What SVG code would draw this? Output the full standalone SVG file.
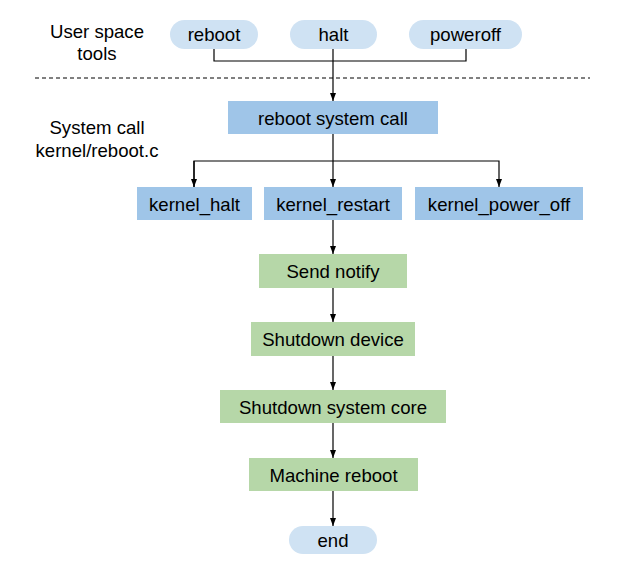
<svg xmlns="http://www.w3.org/2000/svg" width="634" height="571" viewBox="0 0 634 571">
<defs>
<marker id="ah" viewBox="0 0 8 8" refX="8" refY="4" markerWidth="8" markerHeight="8" markerUnits="userSpaceOnUse" orient="auto">
<path d="M0,1 L8,4 L0,7 Z" fill="#000"/>
</marker>
</defs>
<style>
text{font-family:"Liberation Sans",Arial,sans-serif;font-size:18.6px;fill:#000;text-anchor:middle}
.pill{fill:#cfe2f3}
.blue{fill:#9fc5e8}
.green{fill:#b6d7a8}
.c{fill:none;stroke:#000;stroke-width:1.2}
</style>
<rect width="634" height="571" fill="#fff"/>
<g id="label-user">
<text x="97" y="38">User space</text>
<text x="97" y="60">tools</text>
</g>
<g id="label-sys">
<text x="97" y="134">System call</text>
<text x="97" y="157">kernel/reboot.c</text>
</g>
<line x1="35" y1="78" x2="590" y2="78" stroke="#000" stroke-width="1" stroke-dasharray="4,3"/>
<g id="reboot"><rect class="pill" x="170" y="20" width="88" height="29" rx="14.5"/><text x="214" y="41">reboot</text></g>
<g id="halt"><rect class="pill" x="290" y="20" width="87" height="29" rx="14.5"/><text x="333.5" y="41">halt</text></g>
<g id="poweroff"><rect class="pill" x="409" y="20" width="113" height="29" rx="14.5"/><text x="465.5" y="41">poweroff</text></g>
<g id="syscall"><rect class="blue" x="228" y="101" width="210" height="33"/><text x="333" y="124.5">reboot system call</text></g>
<g id="kernel_halt"><rect class="blue" x="137" y="187" width="115" height="33"/><text x="194.5" y="210.5">kernel_halt</text></g>
<g id="kernel_restart"><rect class="blue" x="264" y="187" width="138" height="33"/><text x="333" y="210.5">kernel_restart</text></g>
<g id="kernel_power_off"><rect class="blue" x="415" y="187" width="168" height="33"/><text x="499" y="210.5">kernel_power_off</text></g>
<g id="send_notify"><rect class="green" x="259" y="254" width="148" height="34"/><text x="333" y="278">Send notify</text></g>
<g id="shutdown_device"><rect class="green" x="251" y="322" width="164" height="34"/><text x="333" y="346">Shutdown device</text></g>
<g id="shutdown_core"><rect class="green" x="220" y="390" width="226" height="33"/><text x="333" y="414">Shutdown system core</text></g>
<g id="machine_reboot"><rect class="green" x="249" y="458" width="169" height="33"/><text x="333.5" y="482">Machine reboot</text></g>
<g id="end"><rect class="pill" x="289" y="526" width="88" height="28" rx="14"/><text x="333" y="546.5">end</text></g>
<g id="connectors">
<path class="c" d="M214,49 V61 H466 V49"/>
<path class="c" d="M333,49 V101" marker-end="url(#ah)"/>
<path class="c" d="M333,134 V187" marker-end="url(#ah)"/>
<path class="c" d="M194,187 V161 H499 V187" marker-end="url(#ah)"/>
<path class="c" d="M194,161 V187" marker-end="url(#ah)"/>
<path class="c" d="M333,220 V254" marker-end="url(#ah)"/>
<path class="c" d="M333,288 V322" marker-end="url(#ah)"/>
<path class="c" d="M333,356 V390" marker-end="url(#ah)"/>
<path class="c" d="M333,423 V458" marker-end="url(#ah)"/>
<path class="c" d="M333,491 V526" marker-end="url(#ah)"/>
</g>
</svg>
